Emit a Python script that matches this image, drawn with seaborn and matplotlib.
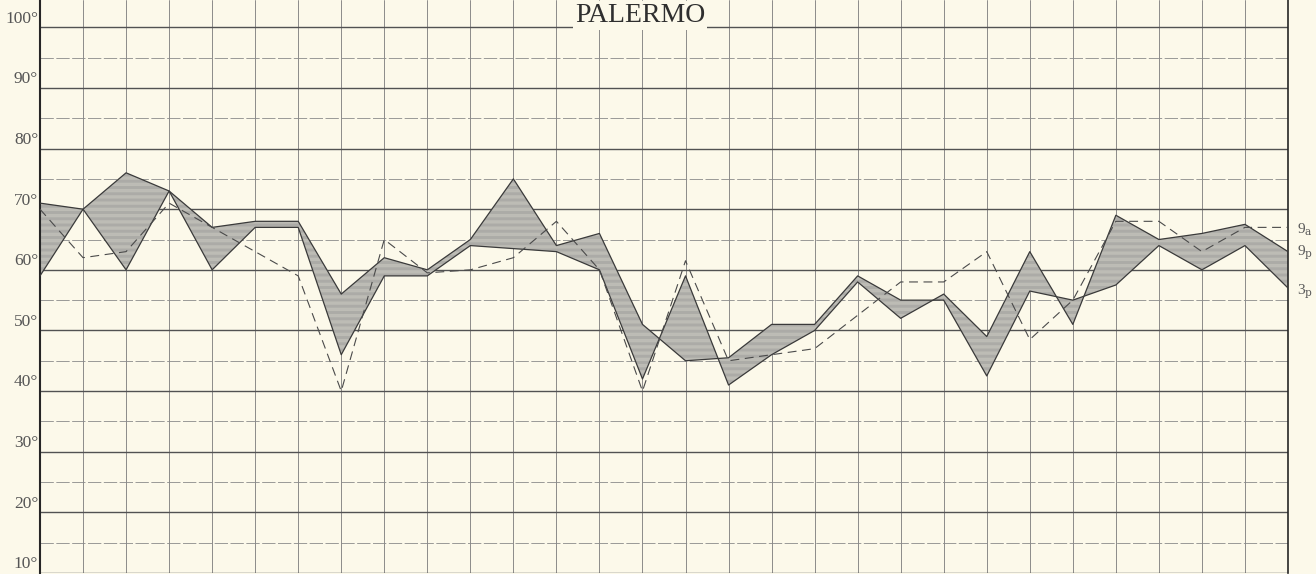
import numpy as np
import pandas as pd
import matplotlib
matplotlib.use("Agg")
import matplotlib.pyplot as plt
import seaborn as sns

# Daily temperatures (°F), one value per day of the month
days = list(range(30))
temp_9a = [70, 62, 63, 71, 67, 63, 59, 40, 65, 59.5, 60, 62, 68, 60, 40,
           61.5, 45, 46, 47, 52.5, 58, 58, 63, 48.5, 55, 68, 68, 63, 67, 67]
temp_9p = [59, 70, 60, 73, 60, 67, 67, 46, 59, 59, 64, 63.5, 63, 60, 42,
           59, 41, 46, 50, 58, 52, 56, 49, 63, 51, 69, 65, 66, 67.5, 63]
temp_3p = [71, 70, 76, 73, 67, 68, 68, 56, 62, 60, 65, 75, 64, 66, 51,
           45, 45.5, 51, 51, 59, 55, 55, 42.5, 56.5, 55, 57.5, 64, 60, 64, 57]
degree_ticks = [10, 20, 30, 40, 50, 60, 70, 80, 90, 100]
series_names = ["9a", "9p", "3p"]
title = "PALERMO"

df = pd.DataFrame({"day": days, "9a": temp_9a, "9p": temp_9p, "3p": temp_3p})

sns.set_theme(style="white")
plt.rcParams["font.family"] = ["Liberation Serif", "DejaVu Serif"]
plt.rcParams["mathtext.fontset"] = "dejavuserif"
plt.rcParams["hatch.linewidth"] = 0.45

paper = "#fcf9ea"
ink = "#3a3a3a"

W, H = 1316, 574
fig = plt.figure(figsize=(W / 100, H / 100), dpi=100, facecolor=paper)
ax = fig.add_axes([40 / W, 1 / H, (1288 - 40) / W, 573 / H])
ax.set_facecolor(paper)
ax.set_xlim(0, 29)
ax.set_ylim(10, 104.5)

# ruled paper: one vertical line per day, horizontal lines every 5 degrees
for d in days[1:-1]:
    ax.axvline(d, color="#7a7a7a", lw=0.6, zorder=1)
for t in range(10, 105, 5):
    if t % 10 == 0:
        ax.axhline(t, color="#525252", lw=1.0, zorder=1)
    else:
        ax.axhline(t, color="#8a8a8a", lw=0.6, ls=(0, (16, 3)), zorder=1)

# hatched band between the two solid curves
ax.fill_between(df["day"], df["9p"], df["3p"], facecolor="#e3e1d6",
                edgecolor="#8c8c8c", hatch="-" * 14, linewidth=0, zorder=2)

sns.lineplot(data=df, x="day", y="9p", ax=ax, color=ink, linewidth=0.9, zorder=3)
sns.lineplot(data=df, x="day", y="3p", ax=ax, color=ink, linewidth=0.9, zorder=3)
sns.lineplot(data=df, x="day", y="9a", ax=ax, color="#4a4a4a", linewidth=0.8,
             linestyle=(0, (8, 5)), zorder=3)

ax.set_xlabel("")
ax.set_ylabel("")
ax.set_xticks([])
ax.set_yticks([])
for side in ["top", "bottom"]:
    ax.spines[side].set_visible(False)
ax.spines["left"].set_color("#262626")
ax.spines["left"].set_linewidth(1.5)
ax.spines["right"].set_color("#262626")
ax.spines["right"].set_linewidth(1.2)

# degree labels sitting just above each major line
ytrans = ax.get_yaxis_transform()
for t in degree_ticks:
    ax.text(-0.0015, t + 0.1, f"{t}°", transform=ytrans, ha="right", va="bottom",
            fontsize=12.5, color="#555555", clip_on=False)

# series labels at the right edge
ends = {"9a": 66.6, "9p": 62.8, "3p": 56.4}
labels = {"9a": r"9$_{\mathrm{a}}$", "9p": r"9$_{\mathrm{p}}$", "3p": r"3$_{\mathrm{p}}$"}
for name in series_names:
    ax.text(29.2, ends[name], labels[name], ha="left", va="center",
            fontsize=11, color="#5a5a5a", clip_on=False)

ax.text(13.95, 100.8, title, ha="center", va="baseline", fontsize=20,
        color="#2f2f2f", clip_on=False, zorder=5,
        bbox=dict(facecolor=paper, edgecolor="none", pad=1.5))

fig.savefig("out.png", dpi=100, facecolor=paper)
